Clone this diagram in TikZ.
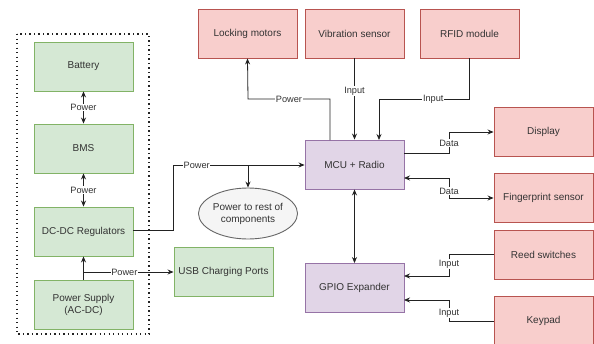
\documentclass[tikz,border=0pt]{standalone}
\usepackage{fontspec}
\setmainfont{Liberation Sans}
\usetikzlibrary{arrows.meta,shapes.geometric}
\definecolor{gfill}{HTML}{D5E8D4}\definecolor{gline}{HTML}{82B366}
\definecolor{rfill}{HTML}{F8CECC}\definecolor{rline}{HTML}{B85450}
\definecolor{pfill}{HTML}{E1D5E7}\definecolor{pline}{HTML}{9673A6}
\definecolor{efill}{HTML}{F5F5F5}\definecolor{eline}{HTML}{666666}
\definecolor{txt}{HTML}{333333}\definecolor{wire}{HTML}{222222}
\tikzset{
  box/.style={draw, line width=0.9pt, minimum width=99pt, minimum height=49pt, inner sep=0pt,
    text=txt, font=\fontsize{10}{12}\selectfont, align=center},
  gbox/.style={box, fill=gfill, draw=gline},
  rbox/.style={box, fill=rfill, draw=rline},
  pbox/.style={box, fill=pfill, draw=pline},
  wirestyle/.style={draw=wire, line width=0.8pt, -{Stealth[length=6pt,width=5pt]}},
  dwire/.style={wirestyle, {Stealth[length=6pt,width=5pt]}-{Stealth[length=6pt,width=5pt]}},
  lbl/.style={fill=white, inner sep=0.6pt, text=txt, font=\fontsize{9.2}{10}\selectfont},
}
\begin{document}
\begin{tikzpicture}[x=1pt,y=-1pt]
\useasboundingbox (0,0) rectangle (594,343);
% dotted group
\draw[line width=1.3pt, dash pattern=on 1.2pt off 3.3pt, draw=wire] (17,34) rectangle (149,334);
% left column
\node[gbox] (bat) at (83.5,66.5) {Battery};
\node[gbox] (bms) at (83.5,148.5) {BMS};
\node[gbox] (dcdc) at (83.5,231.5) {DC-DC Regulators};
\node[gbox] (ps) at (83.5,304.5) {Power Supply\\(AC-DC)};
\node[gbox] (usb) at (223.5,272) {USB Charging Ports};
% top row
\node[rbox] (lock) at (247.5,33.5) {Locking motors};
\node[rbox] (vib) at (354.5,33.5) {Vibration sensor};
\node[rbox] (rfid) at (469.5,33.5) {RFID module};
% right column
\node[rbox] (disp) at (543.5,132) {Display};
\node[rbox] (fing) at (543.5,197.5) {Fingerprint sensor};
\node[rbox] (reed) at (543.5,254.5) {Reed switches};
\node[rbox] (key) at (543.5,320.5) {Keypad};
% center
\node[pbox] (mcu) at (354.5,164.5) {MCU + Radio};
\node[pbox] (gpio) at (354.5,288) {GPIO Expander};
\node[ellipse, draw=eline, fill=efill, line width=0.9pt, minimum width=91pt, minimum height=51pt,
  inner sep=0pt, text=txt, align=center, font=\fontsize{10}{12}\selectfont] (rest) at (248,213.5) {Power to rest of\\components};
% coordinates
\coordinate (jps) at (84,272);
\coordinate (jpow) at (248,165);
% power chain
\draw[dwire] (bat.south) -- node[lbl]{Power} (bms.north);
\draw[dwire] (bms.south) -- node[lbl]{Power} (dcdc.north);
\draw[wirestyle] (ps.north) -- (dcdc.south);
\draw[wirestyle] (jps) -- node[lbl, pos=0.45]{Power} (usb.west |- jps);
\draw[wirestyle] (dcdc.east |- 0,230) -| (173,165) -- node[lbl, pos=0.18]{Power} (mcu.west |- 0,165);
\draw[wirestyle] (jpow) -- (rest.north);
% top connections
\draw[wirestyle] (330,140) |- (248,99) node[lbl, pos=0.75]{Power} -- (lock.south);
\draw[wirestyle] (vib.south) -- node[lbl, pos=0.4]{Input} (mcu.north);
\draw[wirestyle] (rfid.south) |- node[lbl, pos=0.7]{Input} (379,99) -- (379,140);
% MCU - GPIO
\draw[dwire] (mcu.south) -- (gpio.north);
% right connections
\draw[wirestyle] (404,153) -| (449,132) -- (disp.west);
\node[lbl] (ldata1) at (449,143) {Data};
\draw[dwire] (404,178) -| (449,198) -- (fing.west |- 0,198);
\node[lbl] (ldata2) at (449,191) {Data};
\draw[wirestyle] (reed.west) -| (449,276) -- (404,276);
\node[lbl] (lin1) at (449,264) {Input};
\draw[wirestyle] (key.west |- 0,321) -| (449,300) -- (404,300);
\node[lbl] (lin2) at (449,313) {Input};
\end{tikzpicture}
\end{document}
